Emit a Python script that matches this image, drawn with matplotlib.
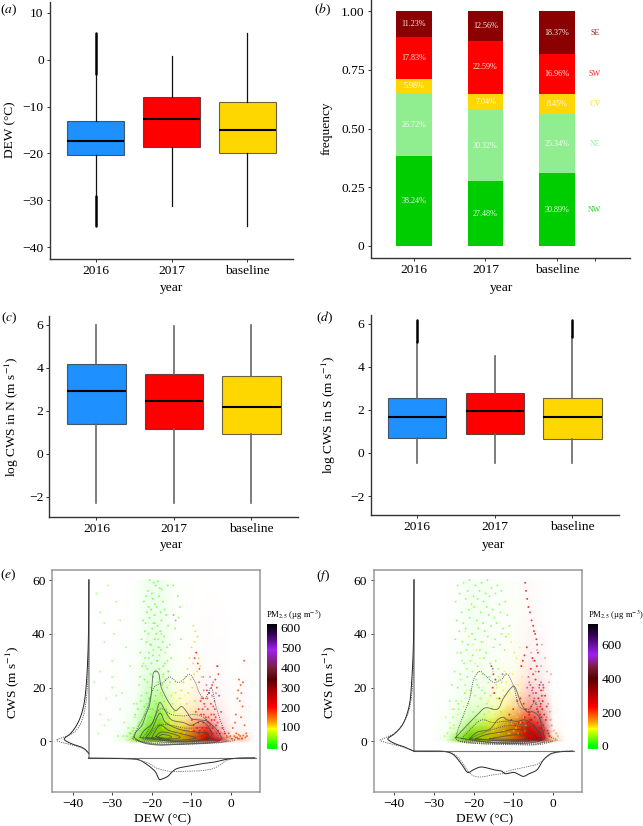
import numpy as np
import matplotlib
matplotlib.use('Agg')
import matplotlib.pyplot as plt
from matplotlib.colors import LinearSegmentedColormap, Normalize
from matplotlib.cm import ScalarMappable

W, H = 643, 826
plt.rcParams['font.family'] = ['Liberation Serif', 'DejaVu Serif']
plt.rcParams['mathtext.fontset'] = 'stix'
plt.rcParams['axes.unicode_minus'] = True

# ---------- box panels ----------
years = ['2016', '2017', 'baseline']
box_colors = ['#1e90ff', '#ff0000', '#ffd700']

dew_q1 = [-20.3, -18.7, -20.0]
dew_med = [-17.4, -12.7, -15.0]
dew_q3 = [-13.1, -7.9, -9.1]
dew_lo = [-29.0, -31.1, -35.5]
dew_hi = [-3.0, 0.8, 5.6]
dew_flier_lo = [(-35.4, -29.0)]
dew_flier_hi = [(-3.0, 5.6)]

cn_q1 = [1.39, 1.16, 0.91]
cn_med = [2.89, 2.43, 2.17]
cn_q3 = [4.18, 3.72, 3.60]
cn_lo = [-2.29, -2.29, -2.29]
cn_hi = [6.0, 5.95, 6.0]

cs_q1 = [0.71, 0.90, 0.65]
cs_med = [1.65, 1.96, 1.68]
cs_q3 = [2.53, 2.79, 2.57]
cs_lo = [-0.48, -0.48, -0.48]
cs_hi = [5.15, 4.48, 5.38]
cs_flier_top = [6.15, None, 6.15]

# ---------- stacked bars ----------
sectors = ['NW', 'NE', 'CV', 'SW', 'SE']
sector_colors = ['#00cd00', '#90ee90', '#ffd700', '#ff0000', '#8b0000']
freq_2016 = [38.24, 26.72, 5.98, 17.83, 11.23]
freq_2017 = [27.48, 30.32, 7.04, 22.59, 12.56]
freq_base = [30.89, 25.34, 8.45, 16.96, 18.37]

# ---------- scatter: haze grid ----------
grid_dew = [-30, -27, -24, -21, -18, -15, -12, -9, -6, -3, 0, 3, 6]
grid_cws = [-0.6, 0.5, 2, 4, 6, 9, 13, 18, 24, 32, 45, 60]

e_density = [
 [0, 0, 0, 0, 0, 0, 0, 0, 0, 0, 0, 0, 0],
 [.03, .1, .75, 1, 1, 1, 1, 1, 1, .9, .3, .25, 0],
 [.02, .08, .6, 1, 1, 1, 1, .95, .95, .6, .12, .12, 0],
 [.01, .05, .3, .9, 1, .95, .85, .8, .85, .35, .06, .06, 0],
 [.01, .03, .18, .7, .95, .75, .6, .6, .65, .22, .04, .03, 0],
 [.01, .02, .1, .5, .75, .45, .35, .35, .3, .12, .02, .03, 0],
 [.01, .02, .06, .35, .55, .3, .18, .2, .15, .06, .01, .03, 0],
 [.01, .02, .04, .22, .3, .14, .1, .1, .07, .03, .01, .02, 0],
 [.005, .01, .03, .12, .14, .06, .04, .06, .03, .02, 0, .01, 0],
 [.005, .01, .02, .08, .1, .03, .01, .03, .01, .01, 0, 0, 0],
 [.005, .005, .01, .07, .08, .02, .01, .01, .01, .005, 0, 0, 0],
 [.005, .005, .01, .07, .08, .02, .01, .005, 0, 0, 0, 0, 0],
]
e_pm = [
 [20, 30, 50, 50, 60, 80, 110, 150, 220, 230, 150, 160, 150],
 [20, 30, 50, 50, 60, 80, 110, 150, 220, 230, 150, 160, 150],
 [20, 25, 40, 50, 60, 80, 110, 150, 210, 220, 170, 170, 150],
 [15, 20, 30, 45, 60, 80, 110, 150, 200, 220, 170, 170, 150],
 [15, 20, 25, 40, 55, 80, 110, 150, 190, 200, 170, 170, 150],
 [15, 15, 20, 30, 50, 75, 105, 140, 170, 220, 170, 170, 150],
 [10, 15, 20, 25, 45, 70, 100, 130, 170, 240, 170, 170, 150],
 [10, 10, 15, 20, 35, 60, 90, 120, 160, 250, 170, 170, 150],
 [10, 10, 15, 15, 25, 50, 80, 110, 150, 250, 170, 170, 150],
 [10, 10, 10, 12, 20, 40, 70, 100, 150, 250, 170, 170, 150],
 [10, 10, 10, 10, 15, 30, 50, 90, 150, 250, 170, 170, 150],
 [10, 10, 10, 10, 15, 30, 50, 90, 150, 250, 170, 170, 150],
]
f_density = [
 [0, 0, 0, 0, 0, 0, 0, 0, 0, 0, 0, 0, 0],
 [.02, .08, .75, 1, 1, 1, 1, 1, 1, 1, .4, .02, 0],
 [.02, .06, .6, 1, 1, 1, 1, 1, 1, .95, .2, .01, 0],
 [.01, .04, .3, .8, .9, .95, 1, 1, 1, .85, .08, 0, 0],
 [.01, .03, .18, .55, .7, .8, .95, .95, .95, .7, .05, 0, 0],
 [.01, .02, .1, .3, .4, .5, .7, .7, .75, .5, .03, 0, 0],
 [.005, .015, .06, .15, .2, .25, .4, .4, .45, .3, .02, 0, 0],
 [.005, .01, .04, .08, .1, .12, .2, .2, .25, .15, .01, 0, 0],
 [.003, .005, .02, .05, .06, .06, .08, .1, .12, .07, .005, 0, 0],
 [.002, .004, .015, .05, .05, .04, .04, .05, .06, .03, 0, 0, 0],
 [.002, .003, .01, .05, .05, .03, .03, .03, .03, .01, 0, 0, 0],
 [.002, .003, .01, .05, .05, .03, .03, .02, .02, .005, 0, 0, 0],
]
f_pm = [
 [30, 40, 50, 60, 80, 110, 130, 170, 230, 280, 160, 120, 100],
 [30, 40, 50, 60, 80, 110, 130, 170, 230, 280, 160, 120, 100],
 [30, 40, 50, 60, 80, 110, 130, 170, 230, 270, 160, 120, 100],
 [30, 30, 40, 55, 75, 110, 130, 170, 220, 270, 160, 120, 100],
 [20, 30, 40, 50, 70, 100, 130, 160, 220, 270, 160, 120, 100],
 [20, 30, 30, 40, 60, 90, 120, 160, 210, 280, 160, 120, 100],
 [20, 20, 30, 35, 50, 80, 110, 150, 210, 280, 160, 120, 100],
 [20, 20, 20, 30, 45, 70, 100, 140, 210, 280, 160, 120, 100],
 [20, 20, 20, 20, 35, 60, 90, 130, 210, 280, 160, 120, 100],
 [20, 20, 20, 15, 30, 50, 70, 120, 210, 280, 160, 120, 100],
 [20, 20, 20, 15, 25, 30, 50, 80, 200, 260, 160, 120, 100],
 [20, 20, 20, 15, 25, 30, 50, 80, 200, 260, 160, 120, 100],
]

# ---------- scatter: individual points ----------
e_green_dew = [-20.5,-19.5,-19,-18.5,-18,-21,-20,-17.5,-16,-22,-21.5,-20.8,-19.8,-19.2,-18.2,-17.2,-21.2,-20.2,-19.4,-18.8,-17.8,-16.8,-22.2,-21.6,-20.6,-19.6,-18.6,-17.6,-16.4,-21.8,-20.9,-19.9,-18.9,-17.9,-16.9,-15.9,-22.6,-21.4,-20.4,-19.3,-18.3,-17.3,-16.2,-22.9,-21.7,-20.7,-19.7,-18.7,-17.7,-16.7,-15.5,-22.4,-21.1,-20.1,-19.1,-18.1,-17.1,-16.1,-15.1,-23,-21.9,-20.3,-19.6,-18.4,-17.4,-16.6,-20.2,-18.6,-17.1,-19.1,-21.3,-15.8,-14.6,-13.4,-12.9,-13.2,-14.2,-12.6,-20.7,-18.9,-19.8,-17.9,-21.9,-16.3,-20.3,-18.2,-22.8,-23.5,-24.2,-23.1,-24.6,-25.4,-22.4,-21.4,-17.3,-19.4]
e_green_cws = [60,59,58,59.5,57,56,55,56.5,58,52,54,50,53,51,54,52,48,49,47,50,48,49,45,44,46,44,43,45,47,41,40,42,40,41,39,43,38,37,36,38,35,37,35,33,31,33,32,30,34,29,36,28,27,29,26,27,28,30,31,24,23,25,24,22,21,23,20,19,25,17,18,26,58,54,50,46,42,38,16,14,12,11,13,10,9,8,15,12,10,7,5,3,6,4,8,5]
e_green2_dew = [-19.6,-18.4,-20.8,-17.6,-21.6,-19.2,-16.6,-20.1,-18.9,-22.1,-17.2,-15.9,-21.1,-19.9,-18.1,-23.2,-16.2,-20.6,-19.4,-17.8,-22.6,-15.4,-21.4,-18.6,-20.4,-16.9,-23.8,-19.1,-17.4,-21.9,-15.1,-20.9,-18.3,-22.4,-16.4,-19.7,-24.3,-17.1,-20.2,-14.8,-21.2,-18.8,-23.4,-16.1,-19.3,-22.9,-14.4,-20.7,-17.7,-15.7,-21.7,-19.5,-24.8,-18.1,-16.7,-22.2,-20.3,-25.6,-26.3,-27.2]
e_green2_cws = [34,38,31,40,28,44,33,36,26,29,24,26,22,19,32,21,20,16,15,18,17,22,14,30,12,15,14,11,17,10,17,9,13,8,12,7,9,10,6,14,6,8,6,9,5,4,11,3,6,7,3,3,4,4,5,2,2,3,2,2]
e_yellow_dew = [-17.8,-16.9,-15.6,-14.8,-14.2,-13.6,-13,-12.4,-16.2,-15.2,-14.5,-13.8,-12.8,-12.1,-11.6,-11,-10.4,-15.8,-14,-13.1,-12.6,-11.8,-11.3,-10.7,-10,-16.6,-15.4,-14.7,-13.3,-12.3,-11.5,-10.9,-9.9,-9.4,-17.2,-15,-13.5,-11.9,-10.2,-9.7]
e_yellow_cws = [19,17,21,18,22,15,19,16,14,13,16,12,14,11,17,13,15,10,9,10,8,9,7,10,12,8,7,6,6,5,6,5,8,11,5,4,3,3,4,6]
e_left_dew = [-34,-33,-32,-31,-30,-29,-28,-34.5,-33,-31.5,-29.5,-33,-32,-30,-28,-26.5,-33.5,-31,-29,-27,-25.5,-32,-28.5,-26,-24.5,-30,-27.5]
e_left_cws = [55,48,37,58,30,52,45,22,26,16,40,10,6,20,12,35,3,8,17,7,28,44,2,5,14,24,18]
e_orange_dew = [-9.5,-9,-8.5,-9.2,-10,-8.8,-10.5,-9.6,-11,-8.2,-9.3,-10.2,-11.5,-8.6,-12,-7.8,-9.8,-10.8,-12.5,-13,-14,-11.2,-8,-7.5,-9.1]
e_orange_cws = [43,41,39,37,35,33,31,29,27,31,25,23,24,26,22,28,20,18,19,16,18,14,22,24,15]
e_red_dew = [-8.8,-9.2,-8.4,-8,-3.5,-3.2,-4,-4.8,-3.6,-5.5,-6,-6.8,-7.2,-4.5,-3,-2.5,-5,-6.4,-7.6,-8.2,-5.8,-4.2,-3.8,-6.2,-7,-5.2,-3.3,-2.8,-8.6,-9.5,-4.6,-6.6,-5.6,-7.4,-8.9,-9.9,-7.7,-6.1,-5.1,-4.1,-7.1,-8.3,-6.9,-5.9,-4.9,-3.9,-7.9,-6.3,-5.3,-4.3,-3.4,-8.1,-7.3,-6.7,-5.7,-4.7,-3.7,-9.3,-2.2,-1.6]
e_red_cws = [33,31,29,27,28,25,23,21,20,18,16,14,12,13,17,11,10,9,10,12,7,8,6,5,7,4,4,3,5,6,3,3,2,2,11,8,15,19,14,12,16,7,10,12,8,9,4,8,6,10,7,3,5,4,9,5,3,4,5,3]
e_right_dew = [2,2.4,1.8,2.6,3,3.3,1.6,2.2,2.9,1.2,1,0.4,2.5,3.4,3.8,4,0.8,1.5,2.1,2.8,3.6,-0.2,0.2,1.1,2.3,1.9,1.7,1.3,2.7,3.1,-0.6,-1.1]
e_right_cws = [23,21,19,18,22,30,16,15,13,10,7,5,9,6,3,2,2,1.5,1,1.2,1.5,2,1,1.4,2,2.5,1,3,1,2.2,3,1.5]
e_purple_dew = [-4.5,-5,-3.8,-4.2,-5.6,-6.2,-7,-14.5,-14,-6.6,-3.4,-4.8,-5.3,-6.9,-7.5,-8.1]
e_purple_cws = [22,20,18,15,18,21,24,47,45,13,28,17,24,19,16,22]

f_green_dew = [-24,-22.5,-21,-19.5,-18,-16.5,-23.5,-21.5,-20,-18.5,-17,-15.5,-14,-24.5,-22,-20.5,-19,-17.5,-16,-14.5,-13,-23,-21.2,-19.8,-18.2,-16.7,-15.2,-13.5,-12,-24.2,-22.6,-21,-19.2,-17.6,-16.2,-14.8,-13.2,-11.5,-23.6,-22,-20.4,-18.8,-17.2,-15.6,-14.2,-12.6,-11,-24.6,-22.8,-21.4,-19.6,-18,-16.4,-14.6,-13,-11.8,-23.2,-21.8,-20.2,-18.4,-16.8,-15,-13.4,-12.2,-22.4,-20.8,-19,-17.4,-15.8,-14.4,-24.8,-23.4,-21.6,-19.4,-17.8,-16,-13.8,-25.5,-24,-22.2,-20.6,-18.6,-26,-25,-23.8]
f_green_cws = [58,59,60,58,59,60,55,56,54,56,55,57,58,52,53,51,53,52,54,55,56,48,49,50,48,50,49,51,52,45,44,46,45,44,47,46,48,47,41,42,40,42,41,43,44,42,43,38,37,36,38,37,39,38,40,39,33,34,32,34,33,35,36,34,29,30,28,31,29,30,26,25,24,23,25,24,27,21,20,18,19,20,15,12,14]
f_green2_dew = [-24.1,-22.9,-21.7,-20.3,-19.1,-17.9,-16.3,-15.1,-13.7,-23.3,-22.1,-20.9,-19.7,-18.3,-17.1,-15.7,-14.3,-12.9,-24.4,-21.3,-18.9,-16.6,-14.1,-11.9,-23.7,-20.1,-17.3,-15.3,-12.3,-25.2,-22.7,-19.3,-16.9,-13.1,-24.9,-21.1,-18.1,-15.9,-23.1,-20.7,-17.7,-24.3,-21.9,-19.9,-25.8,-23.9,-22.3,-26.6,-24.7,-27.3]
f_green2_cws = [33,30,27,26,21,19,22,26,24,23,21,19,17,16,18,17,21,22,15,14,13,14,16,25,12,11,10,12,17,9,9,8,8,11,6,6,5,7,4,4,4,3,3,2,5,2,2,3,1.5,2]
f_yellow_dew = [-27,-26,-25.5,-25,-24,-23,-22.5,-21.8,-20.5,-19.6,-18.7,-17.5,-16.3,-15,-14.1,-12.5,-11.2,-10.5,-9.8,-9.2,-8.4,-7.6,-11.8,-10.2,-8.8,-7.8,-13.5,-12.2,-19.2,-18.4,-20.1,-21.2,-22.1,-9.5,-8.1,-7.2,-16.1,-15.4,-14.6,-13.9,-13.2,-12.7,-12,-11.4,-10.8,-10.1,-9.6,-9,-8.5,-7.9,-17,-15.7,-14.3,-13,-11.6,-10.4,-9.3,-8.2,-7.4,-6.9,-16.5,-15.1,-13.7,-12.4,-11.1,-9.9,-8.7,-7.1]
f_yellow_cws = [9,7,12,5,10,15,13,19,18,29,26,37,15,18,20,19,40,37,33,31,35,28,22,25,21,24,23,26,34,31,36,39,41,15,18,14,11,13,10,12,15,9,11,13,18,10,12,9,11,13,7,8,6,8,6,7,5,7,9,6,4,4,3,4,3,4,3,4]
f_red_dew = [-7,-6.8,-6.5,-6.2,-5.8,-5.4,-5,-4.8,-4.5,-4.2,-4,-3.8,-5.2,-4.6,-4.1,-3.6,-6.6,-7.2,-7.6,-8,-5.6,-5,-4.4,-3.4,-3,-2.8,-2.6,-3.2,-3.8,-4.6,-5.4,-6,-6.8,-7.4,-8.2,-15.5,-15,-14.5,-15.2,-14.8,-13.5,-2.4,-2,-1.6,-2.2,-1.8,-2.4,-3,-3.6,-4.2,-9,-10,-11,-10.5,-9.5,-8.6,-7.8,-2.5,-3.4,-4.8,-5.8,-6.6,-5.1,-4.3,-3.7,-3.1,-2.7,-6.1,-5.5,-4.9,-4.1,-3.3,-2.9,-7.1,-6.4,-5.7,-4.7,-3.9,-3.5,-2.3,-7.7,-6.3,-5.3,-4.4,-3.6,-2.6,-8.4,-7.3,-5.9,-5,-4,-3.2,-2.1,-1.4,-1.1,-0.9]
f_red_cws = [59,56,53,50,48,45,43,41,40,38,36,33,31,30,28,26,35,32,30,28,27,25,23,21,19,17,15,13,11,9,8,10,12,14,16,28,25,23,20,18,16,20,17,13,10,8,6,5,4,3,15,12,10,8,6,7,5,2,2,3,2,3,20,18,16,14,12,11,13,15,12,10,9,9,7,8,6,7,5,4,7,5,4,5,3,3,3,3,2,2,2,2,2,4,3,2]
f_pink_dew = [-5,-4,-3,-2,-1.5,-1,-0.5,-2.5,-3.5,-1.2,-0.8,-2.8,-1.6,-4.4,-5.5,-0.3,0.2,0.8,-0.6,1.2]
f_pink_cws = [30,34,28,31,26,22,25,19,15,14,11,36,9,26,33,6,4,3,8,2]
f_purple_dew = [-6.2,-6,-5.7,-5.3,-5,-4.7,-6.5,-3.5,-3,-2.5,-5.9,-4.4,-15.2,-12.7]
f_purple_cws = [24,22,21,19,18,16,20,20,22,21,17,14,27,25]

# ---------- scatter: marginal curves and contours ----------
e_ml_cws = [60,40,30,22,15,10,6,3,1.2,0.3,-1,-2,-3,-4.5]
e_ml_solid = [-35.9,-36,-36.2,-36.5,-37,-37.8,-39,-40.5,-42,-41.8,-40,-38,-36.8,-35.9]
e_ml_dash = [-35.9,-35.9,-36,-36.2,-36.6,-37.2,-38.2,-40,-43,-44,-41,-38.5,-37,-35.9]
e_mb_dew = [-36,-30,-25,-23,-21,-20,-19,-18.2,-17.5,-16,-15,-13.5,-10,-7,-4,-1,2,6]
e_mb_solid = [-6.2,-6.3,-6.5,-7,-8.8,-10,-11.5,-14,-14,-13,-11.5,-10,-9,-8.2,-7.6,-6.6,-6.2,-6.1]
e_mb_dash = [-6.2,-6.2,-6.4,-7,-8,-8.8,-9.8,-10.2,-10.5,-11,-11.2,-11.2,-11,-10.8,-9.8,-7,-6.2,-6.1]

f_ml_cws = [60,40,30,22,15,10,6,3,1.2,0.3,-1,-2,-3,-3.6]
f_ml_solid = [-35,-35.1,-35.3,-35.6,-36,-36.8,-38,-39.8,-41.5,-41.2,-39.5,-37.5,-36,-35]
f_ml_dash = [-35,-35,-35.1,-35.3,-35.8,-36.6,-38,-40,-42.5,-43.5,-40.5,-38,-36.2,-35]
f_mb_dew = [-35,-30,-27,-25,-23,-21.5,-20,-18,-15,-13,-12,-10,-9,-7.5,-6,-4,-2.5,-1,0,2,5]
f_mb_solid = [-3.6,-3.6,-3.8,-5,-8.5,-11.5,-10.5,-9.5,-10.5,-11,-12,-11.5,-12,-13,-12,-10.5,-7,-5,-4.3,-3.8,-3.6]
f_mb_dash = [-3.6,-3.6,-3.8,-4.6,-7.5,-10.8,-12.8,-13.2,-12.4,-12,-11.3,-10.5,-10.2,-9.7,-9.2,-8.5,-7,-5.2,-4.5,-3.7,-3.6]

e_contours_solid = [
 ([-24.5,-24,-22.5,-21.5,-20.5,-20,-19.7,-19,-18.2,-17.8,-17,-15.5,-14,-12.5,-11.2,-10,-8,-6,-4,-3,-2.5,-4,-8,-14,-18,-22,-24.5],
  [1.5,3.5,6,10,14,20,25,26.2,25,21,18,14,11.5,13,11,8.5,8,7.5,5,3,1,-0.3,-0.8,-1.1,-1.4,-0.6,1.5]),
 ([-23,-22,-20,-19,-18,-16.5,-15,-12,-10,-7.5,-5.5,-5,-8,-15,-23],
  [1.5,4,6.5,10,14.5,11,8,7,6,7.5,5,2,0.3,0,1.5]),
 ([-21.5,-20,-18,-16.5,-13,-9,-6,-6.5,-14,-21.5],
  [1.5,4.5,10.5,7,4.5,3.5,3,0.8,0.2,1.5]),
 ([-20,-18,-15.5,-11,-9,-14,-20],
  [1.5,6,4,2.3,1.2,0.5,1.5]),
 ([-19,-17.5,-14,-13,-17,-19],
  [1.8,3.5,2.5,1.3,0.9,1.8]),
 ([-18.5,-17.2,-15,-16,-18.5],
  [1.6,2.6,1.8,1.2,1.6]),
]
e_contours_dash = [
 ([-25,-24,-22.5,-21,-19.5,-17,-15.5,-13.5,-12,-10.5,-9,-8,-6.5,-5,-4,-2.5,-1,1,-3,-14,-20,-25],
  [1,4,8,13,20,22,24,22,23,25,22,18,16,20,14,7,2,0.5,-0.3,-1,-0.9,1]),
 ([-22.5,-20.5,-18,-15,-12,-9.5,-7,-4,-3.5,-8,-16,-22.5],
  [1,5,12,10,9.5,10,9,4,1,0,-0.3,1]),
 ([-21,-18.5,-15,-12,-9,-6,-4.5,-7,-14,-21],
  [1.2,6,6,5,5,5,1.5,0.2,0,1.2]),
 ([-24,-18,-10,-3,-1],[0.2,-1.2,-1,-0.5,0.3]),
 ([-23,-17,-9,-3.5],[0,-0.9,-0.6,0]),
 ([-22,-15,-8,-4],[0.2,-0.5,-0.3,0.3]),
]
f_contours_solid = [
 ([-24.5,-22,-19,-17,-14,-12.5,-10.5,-9.5,-8,-6.5,-5,-3.5,-2.5,-2.5,-6,-15,-24.5],
  [1.5,5.5,10,12.5,12,16,20,20,14,11,11,9,3,0.8,-0.6,-0.5,1.5]),
 ([-21,-19,-16,-14,-12.5,-11.5,-9,-7,-5,-3.5,-3.5,-10,-21],
  [1,3.5,4.5,8,9,8,7.5,8,6,3,0.8,0,1]),
 ([-19.5,-17,-13,-10,-7,-5,-5,-12,-19.5],
  [1,2.5,3.5,4.5,4,2,0.8,0.3,1]),
 ([-16,-12,-9,-6.5,-8,-16],
  [1,2,2.5,1.8,0.8,1]),
]
f_contours_dash = [
 ([-24.5,-24,-22.5,-21,-20,-18.5,-17,-15,-13,-11.5,-9.8,-8.5,-6,-4.5,-3.5,-2.5,-1,1,-3,-6,-14,-22,-24.5],
  [1,4,10,16,23,26,24.5,22,23,25,20,13,12,15,10,6,2,0.5,-0.5,-1.3,-1,-0.5,1]),
 ([-23,-20.5,-18,-15,-12,-9,-6,-3.5,-2.8,-8,-16,-23],
  [1,5,8,7,7.5,6.5,6,4,1,-0.2,-0.3,1]),
 ([-21,-18,-14,-11,-8,-5,-3.5,-7,-15,-21],
  [1,3,5,6,5.5,5,1,0,-0.2,1]),
 ([-24,-18,-10,-5,-2,0],[0.2,-0.9,-1,-1.3,-0.8,0.2]),
 ([-23,-16,-9,-4,-2],[0,-0.7,-0.7,-0.9,0]),
 ([-22,-14,-7,-3],[0.2,-0.4,-0.4,0.2]),
]

# ---------- colour scale nodes ----------
cb_colors = ['#00ff00', '#ffff00', '#ff9000', '#ff0000', '#a00000', '#5a0000', '#7a2040', '#a020f0', '#300050', '#000000']
e_nodes = [0, 90, 130, 200, 290, 340, 400, 490, 570, 620]
f_nodes = [0, 100, 150, 230, 330, 400, 470, 540, 660, 722]
e_range = (-11.6, 620)
f_range = (-18, 722)
e_cb_ticks = [0, 100, 200, 300, 400, 500, 600]
f_cb_ticks = [0, 200, 400, 600]


def make_cmap(nodes, rng):
    lo, hi = rng
    pos = [0.0] + [(n - lo) / (hi - lo) for n in nodes]
    return LinearSegmentedColormap.from_list('pm', list(zip(pos, [cb_colors[0]] + cb_colors)))


def smooth(xs, ys, n=8):
    """Catmull-Rom rendering of a traced curve through its read points."""
    x, y = np.asarray(xs, float), np.asarray(ys, float)
    px = np.r_[x[0], x, x[-1]]
    py = np.r_[y[0], y, y[-1]]
    t = np.linspace(0, 1, n, endpoint=False)[:, None]
    out = []
    for i in range(1, len(px) - 2):
        p = np.c_[px[i - 1:i + 3], py[i - 1:i + 3]]
        out.append(0.5 * (2 * p[1] + (p[2] - p[0]) * t + (2 * p[0] - 5 * p[1] + 4 * p[2] - p[3]) * t ** 2
                          + (3 * p[1] - p[0] - 3 * p[2] + p[3]) * t ** 3))
    out = np.vstack(out + [[[x[-1], y[-1]]]])
    return out[:, 0], out[:, 1]


fig = plt.figure(figsize=(W / 100, H / 100), dpi=100, facecolor='white')
TICK = 9.7
SPINE = '#333333'


def axes_px(l, t, r, b):
    return fig.add_axes([l / W, 1 - b / H, (r - l) / W, (b - t) / H])


def place_labels(ax, xl, xpos, yl, ypos):
    ax.set_xlabel(xl, fontsize=TICK, va='center', ha='center')
    ax.xaxis.set_label_coords(xpos[0] / W, 1 - xpos[1] / H, transform=fig.transFigure)
    ax.set_ylabel(yl, fontsize=9.6, va='center', ha='center', rotation=90)
    ax.yaxis.set_label_coords(ypos[0] / W, 1 - ypos[1] / H, transform=fig.transFigure)


def style(ax):
    for s in ('top', 'right'):
        ax.spines[s].set_visible(False)
    for s in ('left', 'bottom'):
        ax.spines[s].set_linewidth(1.0)
        ax.spines[s].set_color(SPINE)
    ax.tick_params(labelsize=TICK, length=2, width=0.7, color=SPINE, pad=2.5)


def boxes(ax, q1, med, q3, lo, hi, whisk_color, whisk_lw):
    stats = [dict(med=m, q1=a, q3=b, whislo=l, whishi=h, fliers=[]) for a, m, b, l, h in zip(q1, med, q3, lo, hi)]
    art = ax.bxp(stats, positions=[0, 1, 2], widths=0.75, patch_artist=True, showcaps=False, showfliers=False,
                 medianprops=dict(color='#000000', linewidth=1.5, solid_capstyle='butt'),
                 whiskerprops=dict(color=whisk_color, linewidth=whisk_lw),
                 boxprops=dict(edgecolor='#222222', linewidth=0.8))
    for p, c in zip(art['boxes'], box_colors):
        p.set_facecolor(c)
        p.set_edgecolor((0.1, 0.1, 0.1, 0.65))
    ax.set_xticks([0, 1, 2])
    ax.set_xticklabels(years)


# (a)
ax = axes_px(50, 2, 293, 259)
boxes(ax, dew_q1, dew_med, dew_q3, dew_lo, dew_hi, '#111111', 0.9)
for lo, hi in dew_flier_lo + dew_flier_hi:
    ax.plot([0, 0], [lo, hi], color='black', lw=1.8, solid_capstyle='round')
ax.set_xlim(-0.6, 2.6)
ax.set_ylim(-42.5, 12.3)
ax.set_yticks([10, 0, -10, -20, -30, -40])
style(ax)
place_labels(ax, 'year', (171, 288), 'DEW (°C)', (10, 130))

# (b)
ax = axes_px(371, 0, 630, 257.5)
rows = [freq_2016, freq_2017, freq_base]
for i, row in enumerate(rows):
    bottom = 0.0
    for v, c in zip(row, sector_colors):
        f = v / 100
        ax.bar(i, f, 0.5, bottom=bottom, color=c, linewidth=0)
        ax.text(i, bottom + f / 2, f'{v:.2f}%', color='white', alpha=0.9, fontsize=5.9, ha='center', va='center')
        if i == 2:
            ax.text(2.53, bottom + f / 2, sectors[sector_colors.index(c)], color=c, alpha=0.85, fontsize=5.9, ha='center', va='center')
        bottom += f
ax.set_xlim(-0.6, 3.02)
ax.set_ylim(-0.049, 1.047)
ax.set_xticks([0, 1, 2, 2.53])
ax.set_xticklabels(years + [''])
ax.set_yticks([0, 0.25, 0.5, 0.75, 1.0])
ax.set_yticklabels(['0', '0.25', '0.50', '0.75', '1.00'])
style(ax)
place_labels(ax, 'year', (501, 288), 'frequency', (327, 128))

# (c)
ax = axes_px(49.5, 316, 298, 516.5)
boxes(ax, cn_q1, cn_med, cn_q3, cn_lo, cn_hi, '#666666', 1.2)
ax.set_xlim(-0.606, 2.6)
ax.set_ylim(-2.93, 6.4)
ax.set_yticks([6, 4, 2, 0, -2])
style(ax)
place_labels(ax, 'year', (171.5, 545), r'log CWS in N (m s$^{-1}$)', (12, 417))

# (d)
ax = axes_px(370.5, 315, 619, 515)
boxes(ax, cs_q1, cs_med, cs_q3, cs_lo, cs_hi, '#666666', 1.2)
for i, top in enumerate(cs_flier_top):
    if top is not None:
        ax.plot([i, i], [cs_hi[i], top], color='black', lw=1.8, solid_capstyle='round')
ax.set_xlim(-0.6, 2.6)
ax.set_ylim(-2.88, 6.4)
ax.set_yticks([6, 4, 2, 0, -2])
style(ax)
place_labels(ax, 'year', (493, 545), r'log CWS in S (m s$^{-1}$)', (329, 415))


def scatter_panel(box, cbar_x, title_x, norm_rng, nodes, cb_ticks, density, pm, groups,
                  ml, mb, base_x, base_y, xr, cont_solid, cont_dash, xlab, ylab):
    ax = axes_px(*box)
    cmap = make_cmap(nodes, norm_rng)
    norm = Normalize(*norm_rng)
    D = np.array(density, float)
    rgba = cmap(norm(np.array(pm, float)))
    core = 1 - 0.22 * D[..., None] ** 3
    rgba[..., :3] = (1 - (1 - rgba[..., :3]) * D[..., None]) * core
    rgba[..., 3] = 1
    X, Y = np.meshgrid(grid_dew, grid_cws)
    ax.pcolormesh(X, Y, rgba, shading='gouraud', zorder=1, rasterized=True)
    for gx, gy, val, alpha in groups:
        ax.scatter(gx, gy, s=1.9, c=[val] * len(gx), cmap=cmap, norm=norm, linewidths=0, alpha=alpha, zorder=2)
    for xs, ys in cont_dash:
        ax.plot(*smooth(xs, ys), color='#555555', lw=0.6, ls=(0, (1.3, 1.3)), zorder=3)
    for xs, ys in cont_solid:
        ax.plot(*smooth(xs, ys), color='#444444', lw=0.6, alpha=0.8, zorder=3)
    ax.plot([base_x, base_x], [60, base_y], color='#999999', lw=1.2, zorder=3)
    ml_y, ml_s, ml_d = ml
    mb_x, mb_s, mb_d = mb
    sy, sx = smooth(ml_y, ml_s)
    ax.plot(sx, sy, color='#222222', lw=0.7, zorder=4)
    sy, sx = smooth(ml_y, ml_d)
    ax.plot(sx, sy, color='#555555', lw=0.6, ls=(0, (1.5, 1.2)), zorder=4)
    ax.plot(*smooth(mb_x, mb_s), color='#222222', lw=0.7, zorder=4)
    ax.plot(*smooth(mb_x, mb_d), color='#666666', lw=0.6, ls=(0, (1.5, 1.2)), zorder=4)
    ax.plot([xr[0], xr[1]], [base_y, base_y], color='#777777', lw=0.8, zorder=3)
    ax.set_xlim(-45.2, 7.3)
    ax.set_ylim(-18.8, 63.75)
    ax.set_xticks([-40, -30, -20, -10, 0])
    ax.set_yticks([0, 20, 40, 60])
    for s in ax.spines.values():
        s.set_color('#999999')
        s.set_linewidth(1.1)
    ax.tick_params(labelsize=TICK, length=2, width=0.7, color='#444444', pad=2.5)
    place_labels(ax, 'DEW (°C)', xlab, r'CWS (m s$^{-1}$)', ylab)
    cax = axes_px(cbar_x, 624, cbar_x + 9.5, 749)
    cb = fig.colorbar(ScalarMappable(norm=norm, cmap=cmap), cax=cax, ticks=cb_ticks)
    cb.outline.set_visible(False)
    cax.tick_params(labelsize=TICK, length=0, pad=3)
    fig.text(title_x / W, 1 - 615 / H, r'PM$_{2.5}$ (µg m$^{-3}$)', fontsize=6.2, va='center', ha='left')


scatter_panel((52, 570, 260, 792), 267, 266.5, e_range, e_nodes, e_cb_ticks, e_density, e_pm,
              [(e_green_dew, e_green_cws, 25, 0.6), (e_green2_dew, e_green2_cws, 30, 0.5), (e_left_dew, e_left_cws, 25, 0.45),
               (e_yellow_dew, e_yellow_cws, 90, 0.5), (e_orange_dew, e_orange_cws, 115, 0.6), (e_red_dew, e_red_cws, 205, 0.7),
               (e_right_dew, e_right_cws, 170, 0.8), (e_purple_dew, e_purple_cws, 470, 0.5)],
              (e_ml_cws, e_ml_solid, e_ml_dash), (e_mb_dew, e_mb_solid, e_mb_dash),
              -35.9, -6.2, (-36, 6.2), e_contours_solid, e_contours_dash, (163, 819), (12, 682))

scatter_panel((373.5, 570, 582, 792), 588, 587.5, f_range, f_nodes, f_cb_ticks, f_density, f_pm,
              [(f_green_dew, f_green_cws, 30, 0.55), (f_green2_dew, f_green2_cws, 40, 0.5), (f_yellow_dew, f_yellow_cws, 110, 0.6),
               (f_red_dew, f_red_cws, 240, 0.8), (f_pink_dew, f_pink_cws, 240, 0.35),
               (f_purple_dew, f_purple_cws, 500, 0.6)],
              (f_ml_cws, f_ml_solid, f_ml_dash), (f_mb_dew, f_mb_solid, f_mb_dash),
              -35, -3.6, (-35, 5.2), f_contours_solid, f_contours_dash, (485, 819), (329, 682))

# panel letters
letters = [('a', 9, 10), ('b', 323, 10), ('c', 9, 318), ('d', 325, 318), ('e', 8, 575), ('f', 323, 576)]
for ch, x, y in letters:
    fig.text(x / W, 1 - y / H, rf'($\mathit{{{ch}}}$)', fontsize=TICK, ha='center', va='center')

fig.savefig('out.png', dpi=100)
